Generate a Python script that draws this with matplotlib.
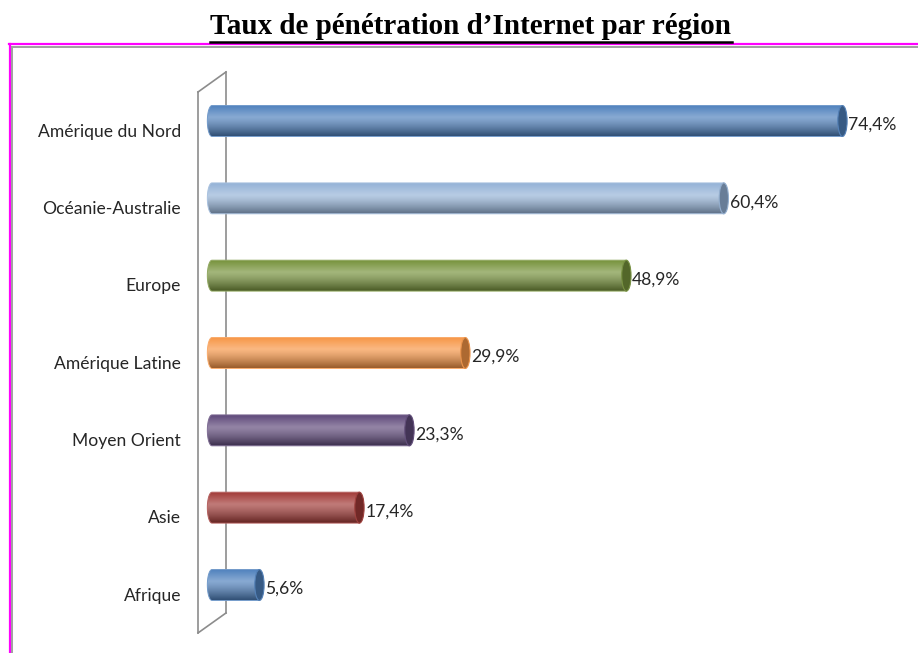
import numpy as np
import matplotlib
matplotlib.use("Agg")
import matplotlib.pyplot as plt
from matplotlib.patches import Ellipse, Polygon
from matplotlib.lines import Line2D
from matplotlib.colors import to_rgb

regions = ["Amérique du Nord", "Océanie-Australie", "Europe", "Amérique Latine",
           "Moyen Orient", "Asie", "Afrique"]
values = [74.4, 60.4, 48.9, 29.9, 23.3, 17.4, 5.6]
labels = ["74,4%", "60,4%", "48,9%", "29,9%", "23,3%", "17,4%", "5,6%"]
colors = ["#4F81BD", "#95B3D7", "#77933C", "#F79646", "#604A7B", "#A23B38", "#4F81BD"]
title = "Taux de pénétration d\u2019Internet par région"

W, H = 918, 653
fig = plt.figure(figsize=(W / 100, H / 100), dpi=100)

# pixel mapping: x=0% at 212px, 8.474 px per %; rows at 121px + 77.33px*i
x0px, sx = 212, 8.474
xmin, xmax = -3, 80
top_px, bot_px = 60, 640
ax = fig.add_axes([(x0px + xmin * sx) / W, 1 - bot_px / H,
                   (xmax - xmin) * sx / W, (bot_px - top_px) / H])
ylim = (6 + (bot_px - 585) / 77.33, -(121 - top_px) / 77.33)
ax.axis("off")

font = ["Lato", "DejaVu Sans"]
h = 0.40          # bar thickness (row units)
a = 0.55          # half width of the end ellipse (% units)


def shade(c):
    base = np.array(to_rgb(c))
    light = base + (1 - base) * 0.32
    dark = base * 0.62
    t = np.linspace(0, 1, 64)
    out = np.zeros((64, 2, 3))
    for k, tt in enumerate(t):
        if tt < 0.38:
            f = tt / 0.38
            col = base * (1 - f) + light * f
        else:
            f = (tt - 0.38) / 0.62
            col = light * (1 - f ** 1.3) + dark * f ** 1.3
        out[k, :, :] = np.clip(col, 0, 1)
    return out


# 3D wall
wall_c = "#8C8C8C"
wl, wr = -1.65, 1.65
ax.add_line(Line2D([wl, wl], [-0.375, 6.62], color=wall_c, lw=1.2, clip_on=False, zorder=1))
ax.add_line(Line2D([wr, wr], [-0.634, 6.362], color=wall_c, lw=1.2, clip_on=False, zorder=1))
ax.add_line(Line2D([wl, wr], [-0.375, -0.634], color=wall_c, lw=1.2, clip_on=False, zorder=1))
ax.add_line(Line2D([wl, wr], [6.62, 6.362], color=wall_c, lw=1.2, clip_on=False, zorder=1))

th = np.linspace(np.pi / 2, 3 * np.pi / 2, 40)
for i, (name, v, lab, c) in enumerate(zip(regions, values, labels, colors)):
    yc = i
    base = np.array(to_rgb(c))
    arc = np.column_stack([a * np.cos(th), yc - (h / 2) * np.sin(th)])
    pts = np.vstack([[v, yc - h / 2], arc, [v, yc + h / 2]])
    clip = Polygon(pts, closed=True, transform=ax.transData, facecolor="none",
                   edgecolor=np.clip(base + (1 - base) * 0.2, 0, 1), lw=0.7, zorder=3.5)
    ax.add_patch(clip)
    im = ax.imshow(shade(c), extent=(-a, v, yc + h / 2, yc - h / 2), origin="upper",
                   aspect="auto", interpolation="bilinear", zorder=3)
    im.set_clip_path(clip)
    ax.add_patch(Ellipse((v, yc), 2 * a, h, facecolor=base * 0.7,
                         edgecolor=np.clip(base * 0.9 + 0.05, 0, 1), lw=0.8, zorder=4))
    ax.text(v + a + 0.15, yc + 0.05, lab, ha="left", va="center", fontsize=12.6,
            family=font, color="#262626", zorder=5)
    ax.text(-3.66, yc + 0.14, name, ha="right", va="center", fontsize=12.6,
            family=font, color="#262626", clip_on=False)

ax.set_xlim(xmin, xmax)
ax.set_ylim(*ylim)

# frame lines (magenta + grey)
fig.add_artist(Line2D([9 / W, 1], [1 - 44 / H] * 2, color="#FF00FF", lw=1.6))
fig.add_artist(Line2D([12 / W, 1], [1 - 46.5 / H] * 2, color="#A0A0A0", lw=1.4))
fig.add_artist(Line2D([9.5 / W] * 2, [0, 1 - 44 / H], color="#FF00FF", lw=1.6))
fig.add_artist(Line2D([12 / W] * 2, [0, 1 - 46.5 / H], color="#A0A0A0", lw=1.4))

# underlined title
t = fig.text(471 / W, 1 - 27 / H, title, ha="center", va="center", fontsize=21,
             fontweight="bold", family="Liberation Serif")
fig.canvas.draw()
bb = t.get_window_extent()
fig.add_artist(Line2D([bb.x0 / W, bb.x1 / W], [1 - 41.5 / H] * 2, color="black", lw=1.8))

fig.savefig("out.png", dpi=100)
